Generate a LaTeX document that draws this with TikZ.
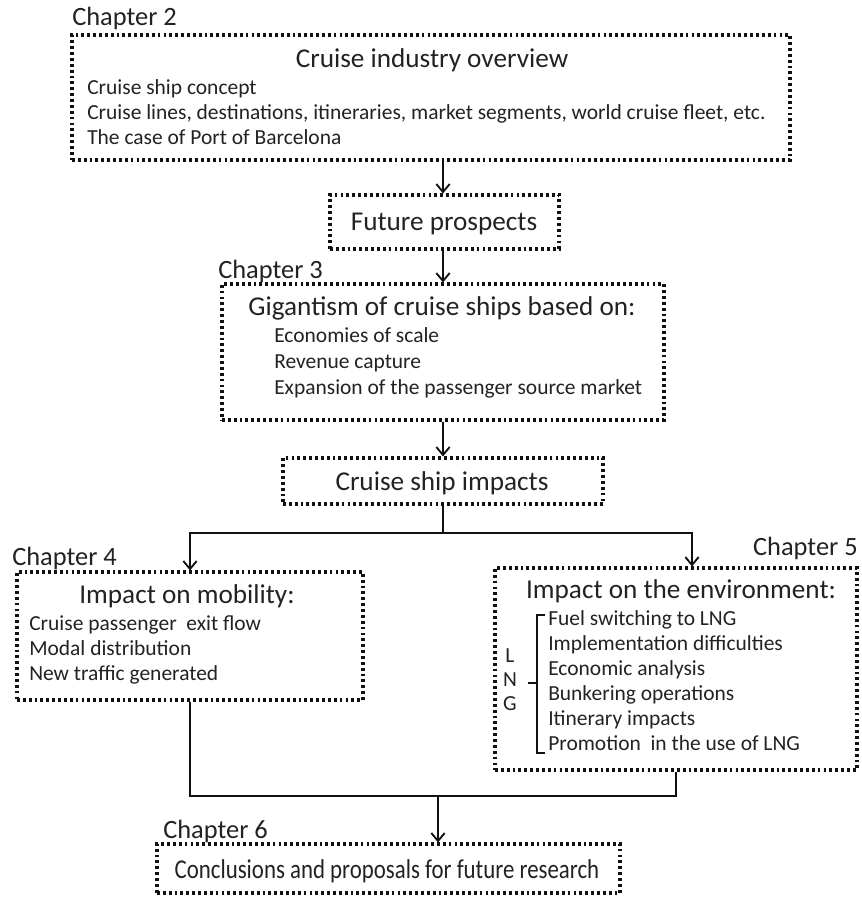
\documentclass[tikz,border=0pt]{standalone}
\usepackage{fontspec}
\setmainfont{Carlito}
\newfontfamily\narrowfont[FakeStretch=0.84]{Carlito}
\usetikzlibrary{arrows.meta, positioning, calc, fit}
\definecolor{inkgray}{HTML}{222222}
\definecolor{framegray}{HTML}{111111}

\begin{document}
\begin{tikzpicture}[x=0.75pt, y=-0.75pt,
    chapbox/.style={draw=framegray, line width=2.3pt, dash pattern=on 2.1pt off 2.3pt, inner sep=0pt},
    chaplabel/.style={inkgray, inner sep=0pt, font=\fontsize{19.8}{22}\selectfont},
    boxtitle/.style={inkgray, inner sep=0pt, anchor=base, font=\fontsize{20.4}{22}\selectfont},
    itemtext/.style={inkgray, inner sep=0pt, anchor=base west, font=\fontsize{16.1}{18}\selectfont},
    link/.style={framegray, line width=1.4pt},
    flow/.style={link, -{Straight Barb[length=6pt, width=10pt]}}]
  \useasboundingbox (0,0) rectangle (862,897);

  % Chapter 2 - overview
  \node[chaplabel, anchor=base west] (ch2) at (72,25) {Chapter 2};
  \node[chapbox, fit={(72,35) (790,160)}] (ovbox) {};
  \node[boxtitle] (ovtitle) at (432,67) {Cruise industry overview};
  \foreach \y/\item in {94/Cruise ship concept,
      119/{Cruise lines, destinations, itineraries, market segments, world cruise fleet, etc.},
      144/The case of Port of Barcelona} {
    \node[itemtext] (ovitem\y) at (87,\y) {\item};
  }

  % Future prospects
  \node[chapbox, fit={(330,195) (559,249)}] (futbox) {};
  \node[boxtitle] (futtitle) at (444,230) {Future prospects};

  % Chapter 3 - gigantism
  \node[chaplabel, anchor=base west] (ch3) at (218,278) {Chapter 3};
  \node[chapbox, fit={(222,284) (664,420)}] (gigbox) {};
  \node[boxtitle] (gigtitle) at (442,315) {Gigantism of cruise ships based on:};
  \foreach \y/\item in {342/Economies of scale, 368/Revenue capture,
      394/Expansion of the passenger source market} {
    \node[itemtext] (gigitem\y) at (274,\y) {\item};
  }

  % Cruise ship impacts
  \node[chapbox, fit={(283,458) (603,504)}] (impbox) {};
  \node[boxtitle] (imptitle) at (442,490) {Cruise ship impacts};

  % Chapter 4 - mobility
  \node[chaplabel, anchor=base west] (ch4) at (12,565) {Chapter 4};
  \node[chapbox, fit={(17,572) (363,700)}] (mobbox) {};
  \node[boxtitle] (mobtitle) at (187,603) {Impact on mobility:};
  \foreach \y/\item in {630/Cruise passenger\ \ exit flow, 655/Modal distribution,
      680/New traffic generated} {
    \node[itemtext] (mobitem\y) at (29,\y) {\item};
  }

  % Chapter 5 - environment
  \node[chaplabel, anchor=base east] (ch5) at (858,555) {Chapter 5};
  \node[chapbox, fit={(495,568) (857,770)}] (envbox) {};
  \node[boxtitle] (envtitle) at (681,598) {Impact on the environment:};
  \foreach \y/\item in {625/Fuel switching to LNG, 650/Implementation difficulties,
      675/Economic analysis, 700/Bunkering operations, 725/Itinerary impacts,
      750/Promotion\ \ in the use of LNG} {
    \node[itemtext] (envitem\y) at (548,\y) {\item};
  }
  \foreach \y/\ltr in {662/L, 686/N, 710/G} {
    \node[itemtext, anchor=base] (lng\ltr) at (510,\y) {\ltr};
  }
  % LNG bracket
  \draw[framegray, line width=0.8pt] (545,615) -- (537,615) -- (537,753) -- (545,753);
  \draw[framegray, line width=0.8pt] (528,683) -- (537,683);

  % Chapter 6 - conclusions
  \node[chaplabel, anchor=base west] (ch6) at (163,838) {Chapter 6};
  \node[chapbox, fit={(157,844) (620,893)}] (concbox) {};
  \node[boxtitle, font=\narrowfont\fontsize{20.4}{22}\selectfont] (conctitle) at (387,878) {Conclusions and proposals for future research};

  % Connectors
  \coordinate (spine) at (443,0);
  \coordinate (fork) at (443,533);
  \coordinate (envdrop) at (692,0);
  \coordinate (merge) at (438,796);
  \draw[flow] (ovbox.south -| spine) -- (futbox.north -| spine);
  \draw[flow] (futbox.south -| spine) -- (gigbox.north -| spine);
  \draw[flow] (gigbox.south -| spine) -- (impbox.north -| spine);
  \draw[link] (impbox.south -| spine) -- (fork);
  \draw[flow] (fork) -| (mobbox.north);
  \draw[flow] (fork) -| (envbox.north -| envdrop);
  \draw[link] (mobbox.south) |- (merge) -| (envbox.south);
  \draw[flow] (merge) -- (merge |- concbox.north);
\end{tikzpicture}
\end{document}
